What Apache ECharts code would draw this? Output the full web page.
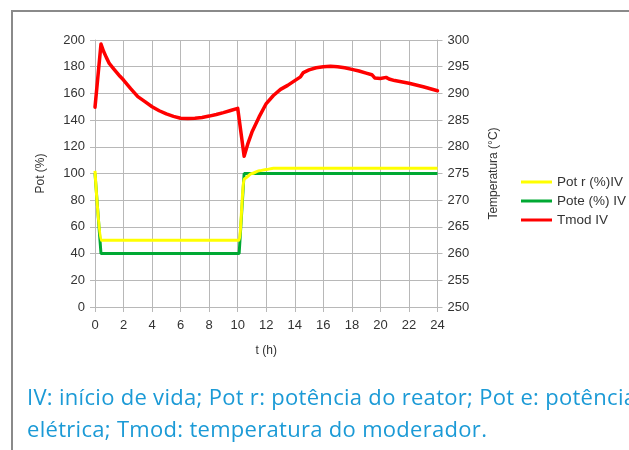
<!DOCTYPE html>
<html>
<head>
<meta charset="utf-8">
<script src="https://cdn.jsdelivr.net/npm/echarts@6/dist/echarts.min.js"></script>
<style>
  html, body { margin: 0; padding: 0; background: #fff; overflow: hidden; }
  #frame { position: absolute; left: 11px; top: 10px; width: 700px; height: 500px;
           border: 2px solid #8a8a8a; box-sizing: border-box; }
  #chart { position: absolute; left: 0; top: 0; width: 629px; height: 450px; }
  #caption { position: absolute; left: 27px; top: 380px; white-space: nowrap;
             font-family: "Open Sans", sans-serif; font-size: 22px; line-height: 32px;
             letter-spacing: 0.3px; color: #1b9ad6; }
</style>
</head>
<body>
<div id="frame"></div>
<div id="chart"></div>
<div id="caption">IV: início de vida; Pot r: potência do reator; Pot e: potência<br>elétrica; Tmod: temperatura do moderador.</div>
<script>
// t (h) e valores
const potRTime = [0, 0.42, 10.1, 10.45, 11, 11.5, 12, 12.5, 24];
const potRVals = [102, 50, 50, 96, 100, 102, 103, 104, 104];

const potETime = [0, 0.42, 10.1, 10.45, 24];
const potEVals = [100, 40, 40, 100, 100];

const tmodTime = [0, 0.42, 0.6, 0.8, 1, 1.25, 1.5, 1.75, 2, 2.5, 3, 3.5, 4, 4.5, 5, 5.5,
  6, 6.5, 7, 7.5, 8, 8.5, 9, 9.5, 10,
  10.45, 10.7, 11, 11.5, 12, 12.5, 13, 13.5, 14, 14.4, 14.6, 15, 15.5, 16, 16.5, 17,
  17.5, 18, 18.5, 19, 19.4, 19.6, 20, 20.4, 20.6, 21, 22, 23, 24];
const tmodVals = [287.4, 299.25, 297.9, 296.7, 295.6, 294.8, 294.0, 293.2, 292.5, 290.9,
  289.4, 288.45, 287.5, 286.75, 286.15, 285.7, 285.35, 285.3, 285.35, 285.5, 285.75,
  286.05, 286.4, 286.8, 287.2,
  278.25, 280.5, 282.75, 285.6, 288.1, 289.6, 290.75, 291.5, 292.4, 293.1, 293.9, 294.4,
  294.8, 295.0, 295.1, 295.0, 294.8, 294.5, 294.2, 293.8, 293.5, 292.9, 292.8, 293.0,
  292.7, 292.4, 291.9, 291.25, 290.5];

const names = ['Pot r (%)IV', 'Pote (%) IV', 'Tmod IV'];

const pairs = (xs, ys) => xs.map((x, i) => [x, ys[i]]);

const chart = echarts.init(document.getElementById('chart'));

const gridColor = '#b8b8b8';
const labelStyle = { color: '#333', fontFamily: 'Liberation Sans', fontSize: 13 };
const nameStyle = { color: '#333', fontFamily: 'Liberation Sans', fontSize: 12 };

chart.setOption({
  animation: false,
  grid: { left: 95, right: 191.5, top: 40, bottom: 143 },
  legend: {
    orient: 'vertical',
    left: 521,
    top: 175,
    padding: 0,
    icon: 'rect',
    itemWidth: 31,
    itemHeight: 3,
    itemGap: 5,
    data: names,
    textStyle: { color: '#333', fontFamily: 'Liberation Sans', fontSize: 13.5 }
  },
  xAxis: {
    type: 'value',
    min: 0, max: 24, interval: 2,
    name: 't (h)',
    nameLocation: 'middle',
    nameGap: 38,
    nameTextStyle: nameStyle,
    axisLine: { show: true, lineStyle: { color: gridColor } },
    axisTick: { show: true, length: 5, lineStyle: { color: gridColor } },
    axisLabel: Object.assign({ margin: 12 }, labelStyle),
    splitLine: { show: true, lineStyle: { color: gridColor, width: 1 } }
  },
  yAxis: [
    {
      type: 'value',
      min: 0, max: 200, interval: 20,
      name: 'Pot (%)',
      nameLocation: 'middle',
      nameGap: 48,
      nameTextStyle: nameStyle,
      axisLine: { show: true, lineStyle: { color: gridColor } },
      axisTick: { show: true, length: 5, lineStyle: { color: gridColor } },
      axisLabel: Object.assign({ margin: 10 }, labelStyle),
      splitLine: { show: true, lineStyle: { color: gridColor, width: 1 } }
    },
    {
      type: 'value',
      position: 'right',
      min: 250, max: 300, interval: 5,
      name: 'Temperatura (°C)',
      nameLocation: 'middle',
      nameGap: 50,
      nameTextStyle: nameStyle,
      axisLine: { show: true, lineStyle: { color: gridColor } },
      axisTick: { show: true, length: 5, lineStyle: { color: gridColor } },
      axisLabel: Object.assign({ margin: 10 }, labelStyle),
      splitLine: { show: false }
    }
  ],
  series: [
    {
      name: names[1], type: 'line', yAxisIndex: 0, symbol: 'none',
      data: pairs(potETime, potEVals),
      lineStyle: { color: '#00a933', width: 3 }, itemStyle: { color: '#00a933' }
    },
    {
      name: names[0], type: 'line', yAxisIndex: 0, symbol: 'none',
      data: pairs(potRTime, potRVals),
      smooth: 0.3, smoothMonotone: 'x',
      lineStyle: { color: '#ffff00', width: 3 }, itemStyle: { color: '#ffff00' }
    },
    {
      name: names[2], type: 'line', yAxisIndex: 1, symbol: 'none',
      data: pairs(tmodTime, tmodVals),
      lineStyle: { color: '#ff0000', width: 3.5, join: 'round', cap: 'round' },
      itemStyle: { color: '#ff0000' }
    }
  ]
});
</script>
</body>
</html>
